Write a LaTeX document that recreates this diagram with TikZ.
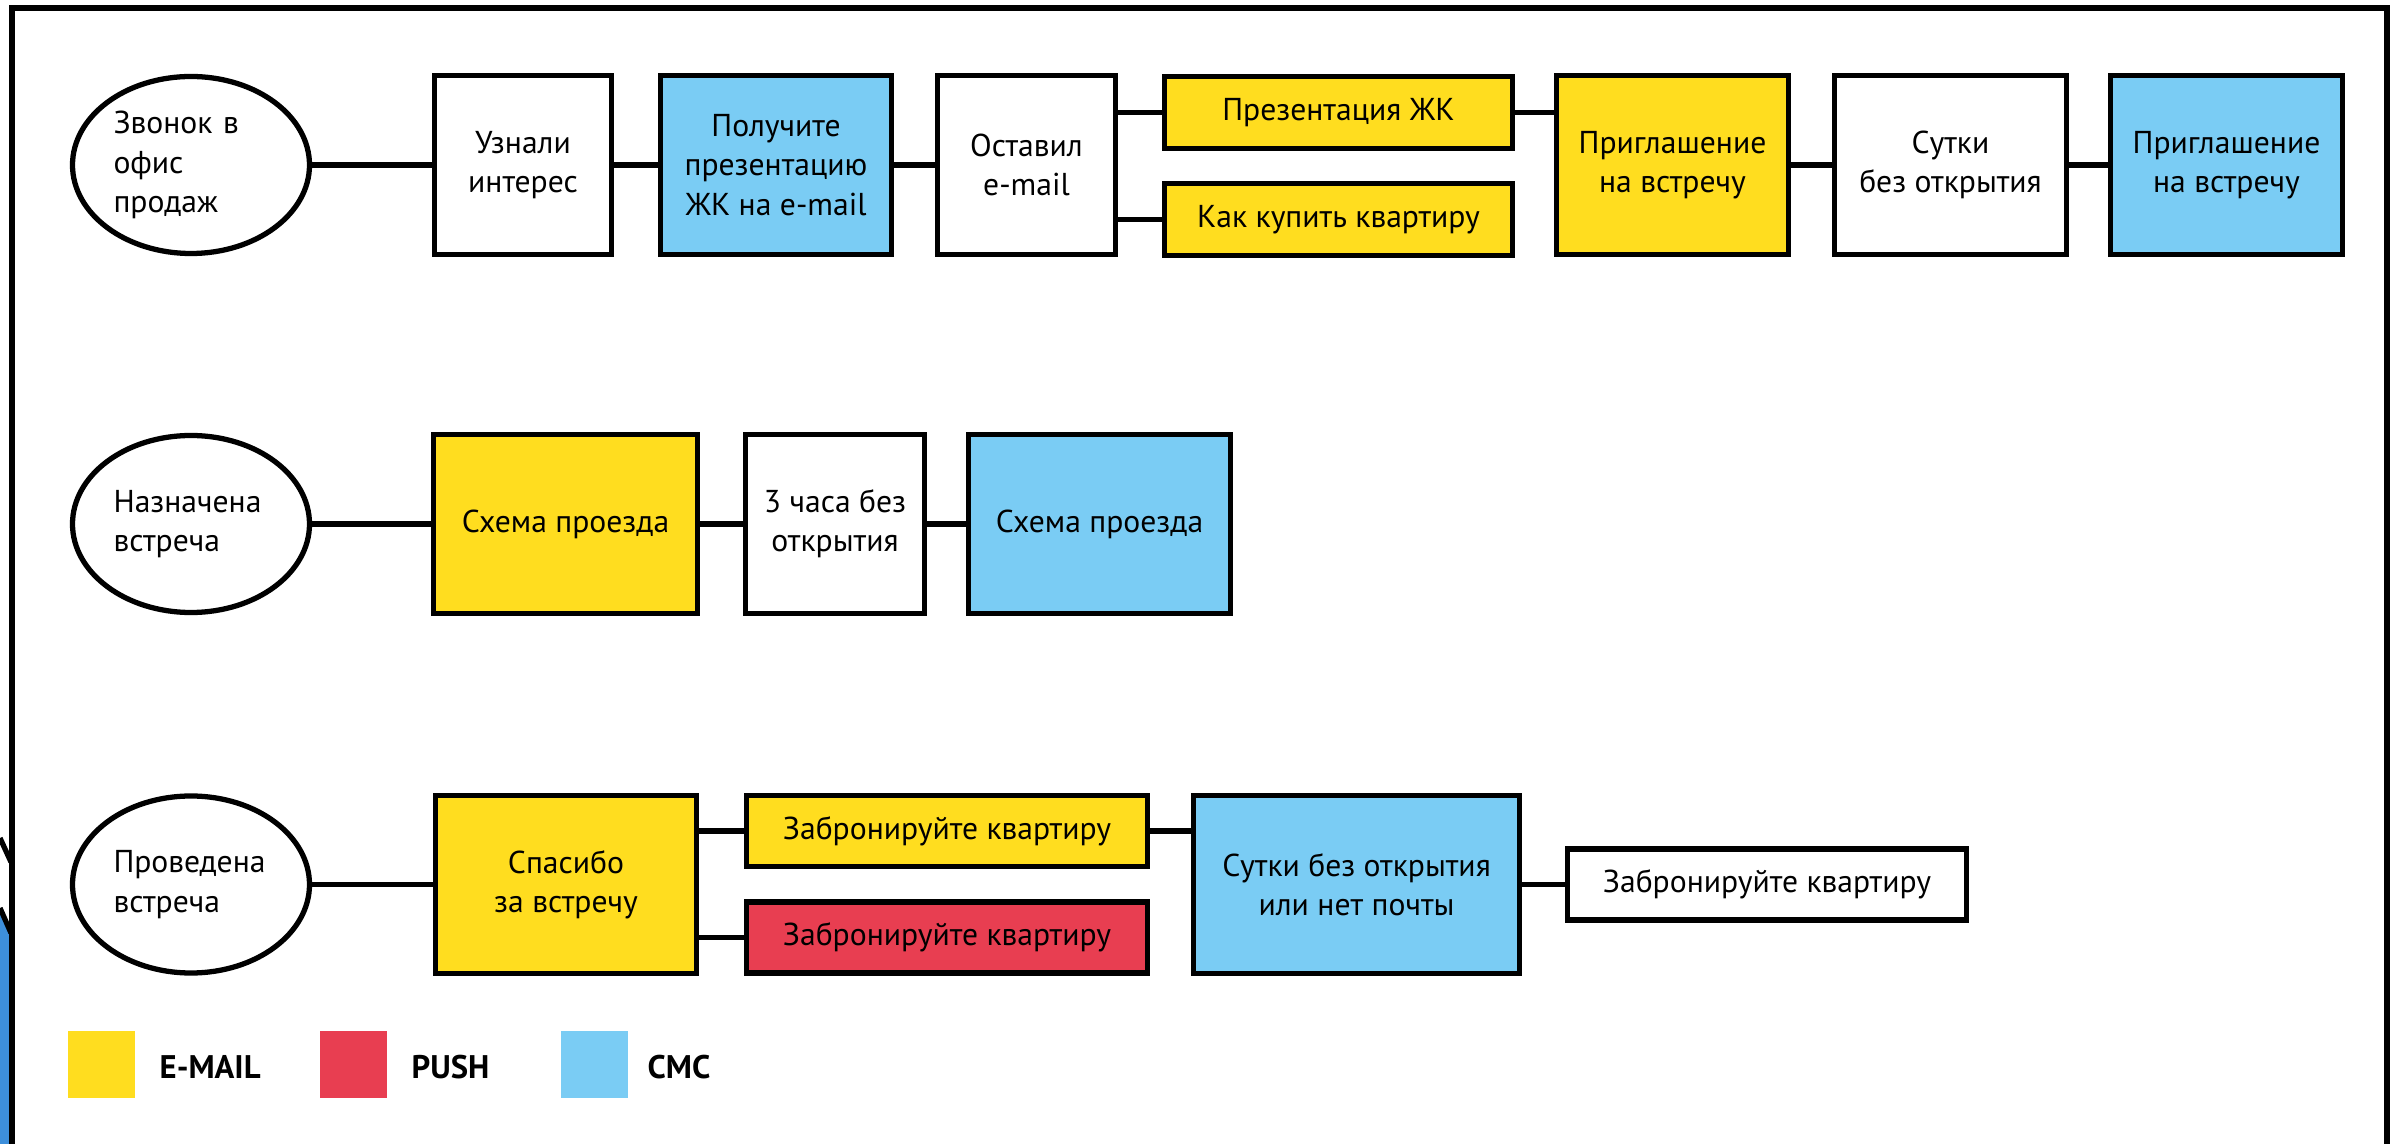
\documentclass[tikz,border=0pt]{standalone}
\usepackage{fontspec}
\setmainfont{PT Sans}
\usetikzlibrary{shapes.geometric}

\definecolor{mailyellow}{HTML}{FFDD1F}
\definecolor{pushred}{HTML}{E83E51}
\definecolor{smsblue}{HTML}{7ACCF4}
\definecolor{backblue}{HTML}{3D8FDB}

\tikzset{
    stage/.style={draw, line width=1.5pt, align=center, inner sep=0pt, font=\fontsize{9}{11.2}\selectfont},
    tall/.style={stage, minimum height=1.79cm},
    flat/.style={stage, minimum height=0.72cm},
    event/.style={stage, ellipse, minimum width=2.37cm, minimum height=1.77cm, text width=1.55cm, align=left},
    mail/.style={fill=mailyellow},
    push/.style={fill=pushred},
    sms/.style={fill=smsblue},
    link/.style={line width=1.5pt},
    key/.style={minimum size=0.67cm, inner sep=0pt},
    keytext/.style={anchor=base west, inner sep=0pt, font=\fontsize{9.3}{11}\selectfont\bfseries}
}

\begin{document}
\begin{tikzpicture}
        \useasboundingbox (0, 0) rectangle (23.95, -11.44);
        \fill[backblue] (0, -9.12) -- (0.11, -9.35) -- (0.11, -11.44) -- (0, -11.44) -- cycle;
        \draw[line width=1.5pt] (0, -8.38) -- (0.11, -8.62);
        \draw[line width=1.5pt] (0, -9.08) -- (0.11, -9.33);
        \draw[line width=1.6pt] (0.12, -11.6) -- (0.12, -0.08) -- (23.87, -0.08) -- (23.87, -11.6);

        \node[event] (ZO) at (1.91, -1.65) {Звонок в\\офис\\продаж};
        \node[tall, minimum width=1.77cm] (UI) at (5.23, -1.65) {Узнали\\интерес};
        \node[tall, sms, minimum width=2.31cm] (PP) at (7.76, -1.65) {Получите\\презентацию\\ЖК на e-mail};
        \node[tall, minimum width=1.78cm] (OE) at (10.265, -1.65) {Оставил\\e-mail};
        \node[flat, mail, minimum width=3.48cm] (PZ) at (13.385, -1.125) {Презентация ЖК};
        \node[flat, mail, minimum width=3.48cm] (KK) at (13.385, -2.195) {Как купить квартиру};
        \node[tall, mail, minimum width=2.32cm] (PV) at (16.725, -1.65) {Приглашение\\на встречу};
        \node[tall, minimum width=2.32cm] (SO) at (19.505, -1.65) {Сутки\\без открытия};
        \node[tall, sms, minimum width=2.32cm] (PS) at (22.265, -1.65) {Приглашение\\на встречу};

        \draw[link] (ZO) -- (UI);
        \draw[link] (UI) -- (PP);
        \draw[link] (PP) -- (OE);
        \draw[link] (OE.east |- PZ) -- (PZ);
        \draw[link] (OE.east |- KK) -- (KK);
        \draw[link] (PZ) -- (PZ -| PV.west);
        \draw[link] (PV) -- (SO);
        \draw[link] (SO) -- (PS);

        \node[event] (NV) at (1.91, -5.24) {Назначена\\встреча};
        \node[tall, mail, minimum width=2.64cm] (SP) at (5.655, -5.24) {Схема проезда};
        \node[tall, minimum width=1.79cm] (TC) at (8.35, -5.24) {3 часа без\\открытия};
        \node[tall, sms, minimum width=2.62cm] (SS) at (10.995, -5.24) {Схема проезда};

        \draw[link] (NV) -- (SP);
        \draw[link] (SP) -- (TC);
        \draw[link] (TC) -- (SS);

        \node[event] (PR) at (1.91, -8.845) {Проведена\\встреча};
        \node[tall, mail, minimum width=2.61cm, minimum height=1.78cm] (SV) at (5.66, -8.845) {Спасибо\\за встречу};
        \node[flat, mail, minimum width=4.01cm, minimum height=0.71cm] (ZM) at (9.47, -8.31) {Забронируйте квартиру};
        \node[flat, push, minimum width=4.01cm, minimum height=0.71cm] (ZP) at (9.47, -9.375) {Забронируйте квартиру};
        \node[tall, sms, minimum width=3.26cm, minimum height=1.78cm] (SN) at (13.565, -8.845) {Сутки без открытия\\или нет почты};
        \node[flat, minimum width=3.99cm, minimum height=0.71cm] (ZK) at (17.67, -8.845) {Забронируйте квартиру};

        \draw[link] (PR) -- (SV);
        \draw[link] (SV.east |- ZM) -- (ZM);
        \draw[link] (SV.east |- ZP) -- (ZP);
        \draw[link] (ZM) -- (ZM -| SN.west);
        \draw[link] (SN) -- (ZK);

        \node[key, fill=mailyellow] (LM) at (1.015, -10.645) {};
        \node[key, fill=pushred] (LP) at (3.535, -10.645) {};
        \node[key, fill=smsblue] (LS) at (5.945, -10.645) {};
        \node[keytext] (EM) at (1.59, -10.79) {E-MAIL};
        \node[keytext] (PU) at (4.11, -10.79) {PUSH};
        \node[keytext] (CM) at (6.47, -10.79) {СМС};
\end{tikzpicture}
\end{document}
